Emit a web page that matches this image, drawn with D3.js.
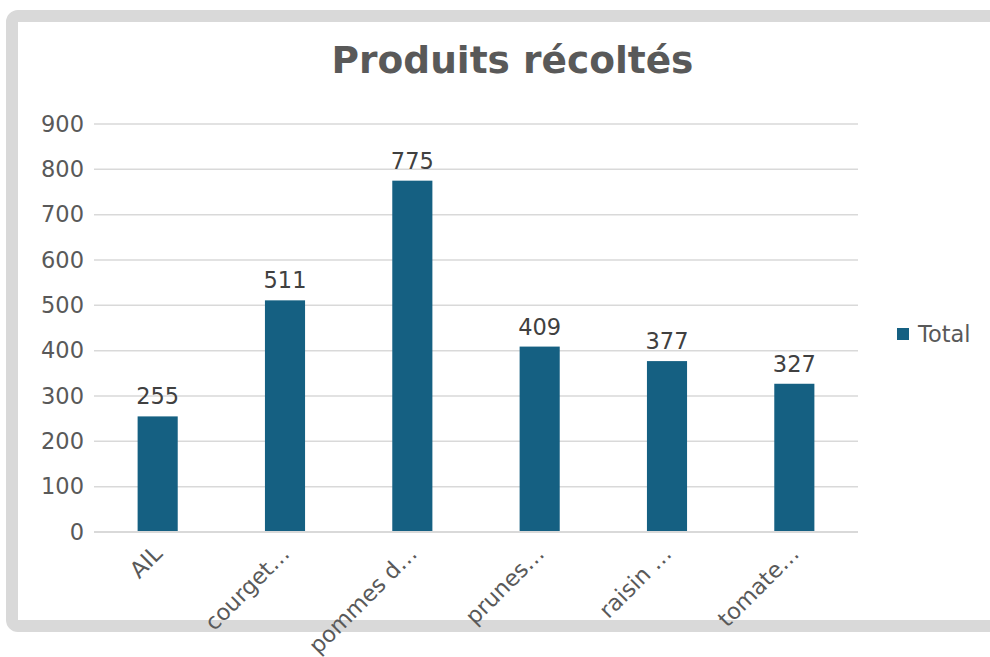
<!DOCTYPE html>
<html><head><meta charset="utf-8">
<script src="https://cdn.jsdelivr.net/npm/d3@7"></script>
<style>body{margin:0;background:#fff}svg{display:block;font-family:"DejaVu Sans",sans-serif}</style>
</head><body>
<svg id="c" width="990" height="657"></svg>
<script>
const categories = ["AIL","courget…","pommes d…","prunes…","raisin …","tomate…"];
const values = [255,511,775,409,377,327];
const yTicks = [0,100,200,300,400,500,600,700,800,900];
const seriesName = "Total";
const title = "Produits récoltés";

const svg = d3.select("#c");
const color = "#156082";
const textColor = "#595959";
const fs = 22.5;

// frame
svg.append("rect").attr("x",12).attr("y",16).attr("width",1000).attr("height",610)
  .attr("rx",6).attr("fill","#fff").attr("stroke","#d9d9d9").attr("stroke-width",12);

const m = {left:94, right:858, top:124, bottom:532};
const x = d3.scaleBand().domain(categories).range([m.left,m.right]).paddingInner(0.685).paddingOuter(0.3425);
const y = d3.scaleLinear().domain([0,900]).range([m.bottom,m.top]);

svg.append("text").attr("x",512.5).attr("y",73).attr("text-anchor","middle")
  .attr("font-size",37.5).attr("font-weight","bold").attr("fill",textColor).text(title);

// gridlines
svg.append("g").selectAll("line").data(yTicks.slice(1)).join("line")
  .attr("x1",m.left).attr("x2",m.right).attr("y1",d=>y(d)).attr("y2",d=>y(d))
  .attr("stroke","#d9d9d9").attr("stroke-width",1.5);

// y axis labels
const yAxis = d3.axisLeft(y).tickValues(yTicks).tickSize(0).tickPadding(10);
const ya = svg.append("g").attr("transform",`translate(${m.left},0)`).call(yAxis);
ya.select(".domain").remove();
ya.selectAll("text").attr("font-size",fs).attr("fill",textColor).attr("font-family","DejaVu Sans");

// bars
svg.append("g").selectAll("rect").data(values).join("rect")
  .attr("x",(d,i)=>x(categories[i])).attr("width",x.bandwidth())
  .attr("y",d=>y(d)).attr("height",d=>y(0)-y(d)).attr("fill",color);

// x axis line
svg.append("line").attr("x1",m.left).attr("x2",m.right).attr("y1",y(0)).attr("y2",y(0))
  .attr("stroke","#d9d9d9").attr("stroke-width",2);

// data labels
svg.append("g").selectAll("text").data(values).join("text")
  .attr("x",(d,i)=>x(categories[i])+x.bandwidth()/2).attr("y",d=>y(d)-12)
  .attr("text-anchor","middle").attr("font-size",fs).attr("fill","#404040").text(d=>d);

// x labels
const xAxis = d3.axisBottom(x).tickSize(0).tickPadding(0);
const xa = svg.append("g").attr("transform",`translate(0,${y(0)})`).call(xAxis);
xa.select(".domain").remove();
xa.selectAll("text").attr("font-size",fs).attr("fill",textColor).attr("font-family","DejaVu Sans")
  .attr("text-anchor","end").attr("dy",null).attr("y",0)
  .attr("transform","translate(6,23) rotate(-45)");

// legend
const lg = svg.append("g").attr("transform","translate(897,328)");
lg.append("rect").attr("width",12).attr("height",12).attr("fill",color);
lg.append("text").attr("x",21).attr("y",14).attr("font-size",fs).attr("fill",textColor).text(seriesName);
</script>
</body></html>
